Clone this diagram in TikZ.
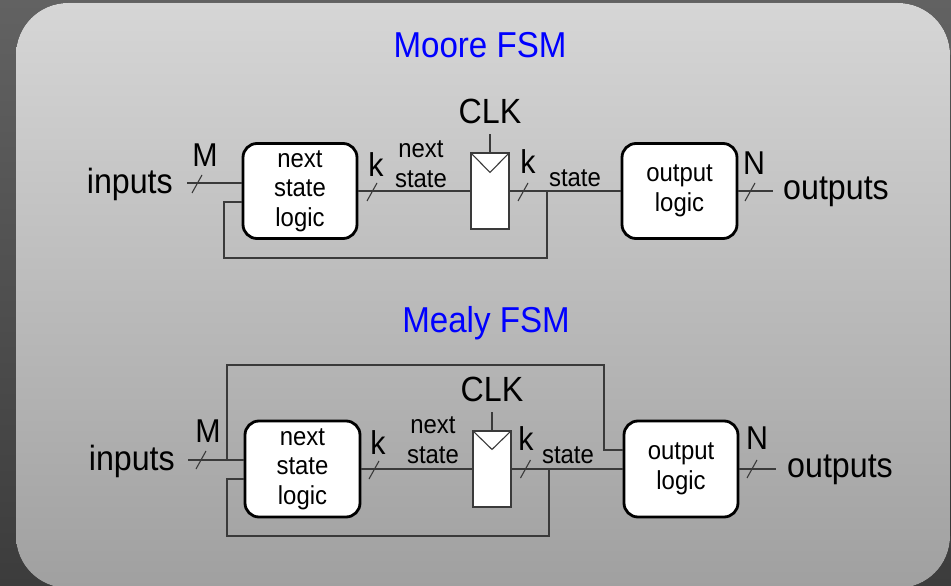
\documentclass[tikz,border=0pt]{standalone}
\usepackage{fontspec}
\setmainfont[FakeStretch=0.92]{Liberation Sans}
\usetikzlibrary{positioning, calc}
\definecolor{wiregray}{HTML}{3A3A3A}
\definecolor{paneltop}{HTML}{D6D6D6}
\definecolor{panelbot}{HTML}{A0A0A0}
\definecolor{outertop}{HTML}{626262}
\definecolor{outerbot}{HTML}{3C3C3C}
\definecolor{titleblue}{HTML}{0000FF}
% small slash across a bus wire
\newcommand{\busmark}[1]{\draw[tick] ([shift={(-5,-9)}]#1) -- ([shift={(5,9)}]#1);}

\begin{document}
\begin{tikzpicture}[
  x=1pt, y=1pt,
  logic/.style={draw=black, line width=2.8pt, fill=white, rounded corners=14pt,
                minimum width=114pt, minimum height=95pt, inner sep=0pt,
                align=center, font=\fontsize{26}{29.5}\selectfont},
  reg/.style={draw=wiregray, line width=1.1pt, fill=white,
              minimum width=38pt, minimum height=76pt, inner sep=0pt},
  wire/.style={draw=wiregray, line width=1.4pt},
  tick/.style={draw=wiregray, line width=1.1pt},
  io/.style={font=\fontsize{35}{40}\selectfont, inner sep=0pt},
  buslbl/.style={font=\fontsize{33}{38}\selectfont, inner sep=0pt},
  sig/.style={font=\fontsize{26}{29.5}\selectfont, align=center, inner sep=0pt},
  title/.style={font=\fontsize{36}{42}\selectfont, text=titleblue}
]
  \useasboundingbox (0,0) rectangle (951,-586);
  \clip (0,0) rectangle (951,-586);
  \fill[top color=outertop, bottom color=outerbot] (0,0) rectangle (951,-586);
  \fill[top color=paneltop, bottom color=panelbot, rounded corners=52pt]
    (16,-3) rectangle (950,-588);

  % Moore FSM
  \node[title] (mooreT) at (480,-45) {Moore FSM};
  \node[logic] (mNext) at (300,-191) {next\\state\\logic};
  \node[reg] (mReg) at (490,-191) {};
  \node[logic, minimum width=115pt] (mOut) at (679.5,-191) {output\\logic};
  \node[io, above=28pt of mReg.north] (mClk) {CLK};
  \node[io, anchor=east] (mInputs) at (173,-184) {inputs};
  \node[io, anchor=west] (mOutputs) at (783,-192) {outputs};
  \coordinate (mIn) at (187,-183);
  \coordinate (mOutEnd) at (773,-191);
  \coordinate (mTap) at (547,-191);
  \coordinate (mLoop) at (224,-258);

  \draw[wire] (mIn) -- (mIn -| mNext.west);
  \draw[wire] (mNext.east |- mReg.west) -- (mReg.west);
  \draw[wire] (mReg.east) -- (mOut.west);
  \draw[wire] (mTap) |- (mLoop) |- ([yshift=-11pt]mNext.west);
  \draw[wire] (mOut.east) -- (mOutEnd);
  \draw[wire] (mReg.north) -- ++(0,18);
  \draw[tick] (mReg.north west) -- ([yshift=-20pt]mReg.north) -- (mReg.north east);

  \coordinate (mBusIn) at (197,-184);
  \coordinate (mBusNs) at (372,-192);
  \coordinate (mBusSt) at (523,-192);
  \coordinate (mBusOut) at (750,-192);
  \busmark{mBusIn}
  \busmark{mBusNs}
  \busmark{mBusSt}
  \busmark{mBusOut}
  \node[buslbl] (mM) at (205,-155) {M};
  \node[buslbl] (mK1) at (376,-165) {k};
  \node[buslbl] (mK2) at (528,-162) {k};
  \node[buslbl] (mN) at (754,-163) {N};
  \node[sig] (mNsLbl) at (421,-164) {next\\state};
  \node[sig] (mStLbl) at (575,-178) {state};

  % Mealy FSM
  \node[title] (mealyT) at (486,-323) {Mealy FSM};
  \node[logic, minimum width=115pt, minimum height=96pt] (eNext) at (302.5,-469) {next\\state\\logic};
  \node[reg] (eReg) at (492,-469) {};
  \node[logic, minimum width=114pt, minimum height=96pt] (eOut) at (681,-469) {output\\logic};
  \node[io, above=28pt of eReg.north] (eClk) {CLK};
  \node[io, anchor=east] (eInputs) at (175,-461) {inputs};
  \node[io, anchor=west] (eOutputs) at (787,-470) {outputs};
  \coordinate (eIn) at (188,-460);
  \coordinate (eJoin) at (227,-460);
  \coordinate (eTop) at (604,-365);
  \coordinate (eOutEnd) at (776,-469);
  \coordinate (eTap) at (549,-469);
  \coordinate (eLoop) at (227,-536);

  \draw[wire] (eIn) -- (eIn -| eNext.west);
  \draw[wire] (eJoin) |- (eTop) |- ([yshift=19pt]eOut.west);
  \draw[wire] (eNext.east |- eReg.west) -- (eReg.west);
  \draw[wire] (eReg.east) -- (eOut.west);
  \draw[wire] (eTap) |- (eLoop) |- ([yshift=-10pt]eNext.west);
  \draw[wire] (eOut.east) -- (eOutEnd);
  \draw[wire] (eReg.north) -- ++(0,18);
  \draw[tick] (eReg.north west) -- ([yshift=-19pt]eReg.north) -- (eReg.north east);

  \coordinate (eBusIn) at (201,-460);
  \coordinate (eBusNs) at (374,-470);
  \coordinate (eBusSt) at (525.5,-469);
  \coordinate (eBusOut) at (752,-469);
  \busmark{eBusIn}
  \busmark{eBusNs}
  \busmark{eBusSt}
  \busmark{eBusOut}
  \node[buslbl] (eM) at (208,-431) {M};
  \node[buslbl] (eK1) at (378,-443) {k};
  \node[buslbl] (eK2) at (526,-439) {k};
  \node[buslbl] (eN) at (757,-438) {N};
  \node[sig] (eNsLbl) at (433,-440) {next\\state};
  \node[sig] (eStLbl) at (568,-455) {state};
\end{tikzpicture}
\end{document}
